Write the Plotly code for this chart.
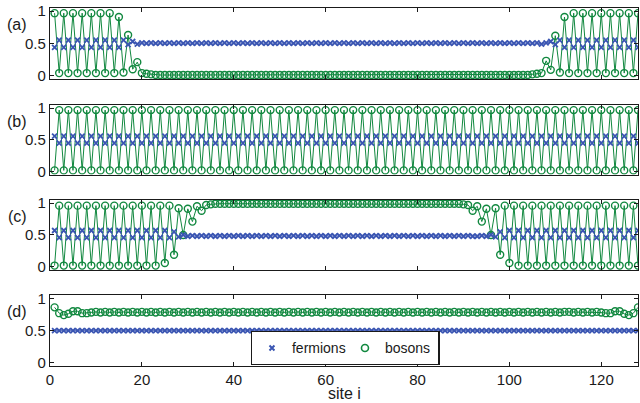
import plotly.graph_objects as go
from plotly.subplots import make_subplots

sites = list(range(1, 129))

a_bosons = [
    0.97,0.04,0.97,0.04,0.97,0.04,0.97,0.04,0.97,0.04,0.97,0.04,0.97,0.04,0.91,0.05,
    0.63,0.10,0.21,0.04,0.03,0.02,0.01,0.01,0.01,0.01,0.01,0.01,0.01,0.01,0.01,0.01,
    0.01,0.01,0.01,0.01,0.01,0.01,0.01,0.01,0.01,0.01,0.01,0.01,0.01,0.01,0.01,0.01,
    0.01,0.01,0.01,0.01,0.01,0.01,0.01,0.01,0.01,0.01,0.01,0.01,0.01,0.01,0.01,0.01,
    0.01,0.01,0.01,0.01,0.01,0.01,0.01,0.01,0.01,0.01,0.01,0.01,0.01,0.01,0.01,0.01,
    0.01,0.01,0.01,0.01,0.01,0.01,0.01,0.01,0.01,0.01,0.01,0.01,0.01,0.01,0.01,0.01,
    0.01,0.01,0.01,0.01,0.01,0.01,0.01,0.01,0.02,0.03,0.04,0.23,0.09,0.62,0.05,0.91,
    0.04,0.97,0.04,0.97,0.04,0.97,0.04,0.97,0.04,0.97,0.04,0.97,0.04,0.97,0.04,0.97,
]
a_fermions = [
    0.44,0.55,0.44,0.55,0.44,0.55,0.44,0.55,0.44,0.55,0.44,0.55,0.44,0.55,0.44,0.55,
    0.48,0.53,0.49,0.51,0.50,0.51,0.50,0.51,0.50,0.51,0.50,0.51,0.50,0.51,0.50,0.51,
    0.50,0.51,0.50,0.51,0.50,0.51,0.50,0.51,0.50,0.51,0.50,0.51,0.50,0.51,0.50,0.51,
    0.50,0.51,0.50,0.51,0.50,0.51,0.50,0.51,0.50,0.51,0.50,0.51,0.50,0.51,0.50,0.51,
    0.50,0.51,0.50,0.51,0.50,0.51,0.50,0.51,0.50,0.51,0.50,0.51,0.50,0.51,0.50,0.51,
    0.50,0.51,0.50,0.51,0.50,0.51,0.50,0.51,0.50,0.51,0.50,0.51,0.50,0.51,0.50,0.51,
    0.50,0.51,0.50,0.51,0.50,0.51,0.50,0.51,0.50,0.51,0.49,0.51,0.53,0.48,0.55,0.44,
    0.55,0.44,0.55,0.44,0.55,0.44,0.55,0.44,0.55,0.44,0.55,0.44,0.55,0.44,0.55,0.44,
]
b_bosons = [
    0.02,0.97,0.02,0.97,0.02,0.97,0.02,0.97,0.02,0.97,0.02,0.97,0.02,0.97,0.02,0.97,
    0.02,0.97,0.02,0.97,0.02,0.97,0.02,0.97,0.02,0.97,0.02,0.97,0.02,0.97,0.02,0.97,
    0.02,0.97,0.02,0.97,0.02,0.97,0.02,0.97,0.02,0.97,0.02,0.97,0.02,0.97,0.02,0.97,
    0.02,0.97,0.02,0.97,0.02,0.97,0.02,0.97,0.02,0.97,0.02,0.97,0.02,0.97,0.02,0.97,
    0.02,0.97,0.02,0.97,0.02,0.97,0.02,0.97,0.02,0.97,0.02,0.97,0.02,0.97,0.02,0.97,
    0.02,0.97,0.02,0.97,0.02,0.97,0.02,0.97,0.02,0.97,0.02,0.97,0.02,0.97,0.02,0.97,
    0.02,0.97,0.02,0.97,0.02,0.97,0.02,0.97,0.02,0.97,0.02,0.97,0.02,0.97,0.02,0.97,
    0.02,0.97,0.02,0.97,0.02,0.97,0.02,0.97,0.02,0.97,0.02,0.97,0.02,0.97,0.02,0.97,
]
b_fermions = [
    0.56,0.45,0.56,0.45,0.56,0.45,0.56,0.45,0.56,0.45,0.56,0.45,0.56,0.45,0.56,0.45,
    0.56,0.45,0.56,0.45,0.56,0.45,0.56,0.45,0.56,0.45,0.56,0.45,0.56,0.45,0.56,0.45,
    0.56,0.45,0.56,0.45,0.56,0.45,0.56,0.45,0.56,0.45,0.56,0.45,0.56,0.45,0.56,0.45,
    0.56,0.45,0.56,0.45,0.56,0.45,0.56,0.45,0.56,0.45,0.56,0.45,0.56,0.45,0.56,0.45,
    0.56,0.45,0.56,0.45,0.56,0.45,0.56,0.45,0.56,0.45,0.56,0.45,0.56,0.45,0.56,0.45,
    0.56,0.45,0.56,0.45,0.56,0.45,0.56,0.45,0.56,0.45,0.56,0.45,0.56,0.45,0.56,0.45,
    0.56,0.45,0.56,0.45,0.56,0.45,0.56,0.45,0.56,0.45,0.56,0.45,0.56,0.45,0.56,0.45,
    0.56,0.45,0.56,0.45,0.56,0.45,0.56,0.45,0.56,0.45,0.56,0.45,0.56,0.45,0.56,0.45,
]
c_bosons = [
    0.02,0.96,0.02,0.96,0.02,0.96,0.02,0.96,0.02,0.96,0.02,0.96,0.02,0.96,0.02,0.96,
    0.02,0.96,0.02,0.96,0.02,0.96,0.02,0.96,0.06,0.96,0.19,0.92,0.50,0.91,0.71,0.95,
    0.88,0.97,0.98,0.99,0.99,0.99,0.99,0.99,0.99,0.99,0.99,0.99,0.99,0.99,0.99,0.99,
    0.99,0.99,0.99,0.99,0.99,0.99,0.99,0.99,0.99,0.99,0.99,0.99,0.99,0.99,0.99,0.99,
    0.99,0.99,0.99,0.99,0.99,0.99,0.99,0.99,0.99,0.99,0.99,0.99,0.99,0.99,0.99,0.99,
    0.99,0.99,0.99,0.99,0.99,0.99,0.99,0.99,0.99,0.98,0.97,0.88,0.95,0.71,0.91,0.50,
    0.92,0.19,0.96,0.06,0.96,0.02,0.96,0.02,0.96,0.02,0.96,0.02,0.96,0.02,0.96,0.02,
    0.96,0.02,0.96,0.02,0.96,0.02,0.96,0.02,0.96,0.02,0.96,0.02,0.96,0.02,0.96,0.02,
]
c_fermions = [
    0.57,0.46,0.57,0.46,0.57,0.46,0.57,0.46,0.57,0.46,0.57,0.46,0.57,0.46,0.57,0.46,
    0.57,0.46,0.57,0.46,0.57,0.46,0.57,0.46,0.57,0.46,0.55,0.47,0.50,0.48,0.49,0.48,
    0.49,0.48,0.49,0.48,0.49,0.48,0.49,0.48,0.49,0.48,0.49,0.48,0.49,0.48,0.49,0.48,
    0.49,0.48,0.49,0.48,0.49,0.48,0.49,0.48,0.49,0.48,0.49,0.48,0.49,0.48,0.49,0.48,
    0.49,0.48,0.49,0.48,0.49,0.48,0.49,0.48,0.49,0.48,0.49,0.48,0.49,0.48,0.49,0.48,
    0.49,0.48,0.49,0.48,0.49,0.48,0.49,0.48,0.49,0.48,0.49,0.48,0.48,0.49,0.48,0.50,
    0.47,0.55,0.46,0.57,0.46,0.57,0.46,0.57,0.46,0.57,0.46,0.57,0.46,0.57,0.46,0.57,
    0.46,0.57,0.46,0.57,0.46,0.57,0.46,0.57,0.46,0.57,0.46,0.57,0.46,0.57,0.46,0.57,
]
d_bosons = [
    0.86,0.77,0.74,0.76,0.80,0.80,0.77,0.77,0.78,0.79,0.78,0.79,0.78,0.79,0.78,0.79,
    0.78,0.79,0.78,0.79,0.78,0.79,0.78,0.79,0.78,0.79,0.78,0.79,0.78,0.79,0.78,0.79,
    0.78,0.79,0.78,0.79,0.78,0.79,0.78,0.79,0.78,0.79,0.78,0.79,0.78,0.79,0.78,0.79,
    0.78,0.79,0.78,0.79,0.78,0.79,0.78,0.79,0.78,0.79,0.78,0.79,0.78,0.79,0.78,0.79,
    0.78,0.79,0.78,0.79,0.78,0.79,0.78,0.79,0.78,0.79,0.78,0.79,0.78,0.79,0.78,0.79,
    0.78,0.79,0.78,0.79,0.78,0.79,0.78,0.79,0.78,0.79,0.78,0.79,0.78,0.79,0.78,0.79,
    0.78,0.79,0.78,0.79,0.78,0.79,0.78,0.79,0.78,0.79,0.78,0.79,0.78,0.79,0.78,0.79,
    0.79,0.78,0.79,0.78,0.79,0.78,0.79,0.78,0.77,0.77,0.80,0.80,0.76,0.74,0.77,0.86,
]
d_fermions = [0.50] * 128

panels = [("(a)", a_fermions, a_bosons), ("(b)", b_fermions, b_bosons),
          ("(c)", c_fermions, c_bosons), ("(d)", d_fermions, d_bosons)]

x_ticks = [0, 20, 40, 60, 80, 100, 120]
y_ticks = [0, 0.5, 1]
y_ticktext = ["0", "0.5", "1"]

GREEN = "#11883f"
BLUE = "#3a55b2"
AXC = "#1a1a1a"
FONT = "Liberation Sans, Arial, sans-serif"

fig = make_subplots(rows=4, cols=1, shared_xaxes=True)
domains = [[0.802, 1.0], [0.534, 0.729], [0.268, 0.464], [0.0, 0.198]]

for i, (lab, fer, bos) in enumerate(panels):
    r = i + 1
    fig.add_trace(go.Scatter(x=sites, y=bos, mode="lines+markers",
                             line=dict(color=GREEN, width=1),
                             marker=dict(symbol="circle-open", size=7, color=GREEN,
                                         line=dict(width=1.4, color=GREEN)),
                             showlegend=False), row=r, col=1)
    fig.add_trace(go.Scatter(x=sites, y=fer, mode="lines+markers",
                             line=dict(color=BLUE, width=0.8),
                             marker=dict(symbol="x-thin", size=5, color=BLUE,
                                         line=dict(width=1.8, color=BLUE)),
                             showlegend=False), row=r, col=1)
    ax = "" if r == 1 else str(r)
    fig.layout["yaxis" + ax].update(domain=domains[i])
    fig.add_annotation(text=lab, xref="paper", yref="paper", x=-0.056,
                       y=domains[i][1] - 0.047, xanchor="center", yanchor="middle",
                       showarrow=False, font=dict(size=16, color=AXC, family=FONT))

# legend-only entries (markers only)
fig.add_trace(go.Scatter(x=[None], y=[None], mode="markers", name="fermions",
                         marker=dict(symbol="x-thin", size=5, color=BLUE,
                                     line=dict(width=2, color=BLUE))), row=4, col=1)
fig.add_trace(go.Scatter(x=[None], y=[None], mode="markers", name="bosons",
                         marker=dict(symbol="circle-open", size=7, color=GREEN,
                                     line=dict(width=1.6, color=GREEN))), row=4, col=1)

axis_style = dict(showline=True, mirror="ticks", linecolor=AXC, linewidth=1.3,
                  ticks="inside", ticklen=4, tickcolor=AXC, tickwidth=1,
                  showgrid=False, zeroline=False,
                  tickfont=dict(size=15, color=AXC, family=FONT))
fig.update_xaxes(range=[0, 128], tickvals=x_ticks, **axis_style)
fig.update_yaxes(range=[-0.05, 1.05], tickvals=y_ticks, ticktext=y_ticktext, **axis_style)
for r in range(1, 4):
    fig.update_xaxes(showticklabels=False, row=r, col=1)

fig.add_annotation(text="site i", xref="paper", yref="paper", x=0.5, y=-0.077,
                   xanchor="center", yanchor="middle", showarrow=False,
                   font=dict(size=16, color=AXC, family=FONT))

fig.update_layout(
    width=640, height=403, autosize=False,
    margin=dict(l=50, r=2, t=8, b=37),
    paper_bgcolor="white", plot_bgcolor="white",
    font=dict(family=FONT, color=AXC, size=15),
    legend=dict(orientation="h", x=0.502, xanchor="center", y=0.05, yanchor="middle",
                bgcolor="white", bordercolor=AXC, borderwidth=1.3,
                font=dict(size=14, color=AXC, family=FONT),
                itemsizing="trace", itemwidth=30,
                entrywidth=48, entrywidthmode="pixels",
                tracegroupgap=0),
)

fig.write_html("out.html")
